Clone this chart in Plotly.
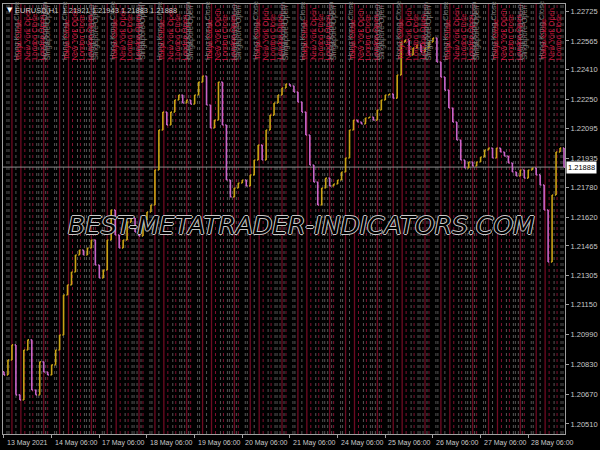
import plotly.graph_objects as go

# ---------------- data ----------------
close = [
    1.20773, 1.20853, 1.20934, 1.20666, 1.20639, 1.20907, 1.20961, 1.20692, 1.20666, 1.20843,
    1.20789, 1.20773, 1.20827, 1.20907, 1.20987, 1.21202, 1.21256, 1.21325, 1.21416, 1.21443,
    1.21416, 1.21454, 1.21497, 1.21363, 1.21293, 1.21336, 1.21497, 1.21658, 1.21524, 1.21454,
    1.21497, 1.21593, 1.21615, 1.21540, 1.21518, 1.21604, 1.21647, 1.21685, 1.21872, 1.22087,
    1.22183, 1.22114, 1.22183, 1.22248, 1.22275, 1.22232, 1.22248, 1.22226, 1.22275, 1.22344,
    1.22376, 1.22221, 1.22098, 1.22140, 1.22344, 1.22114, 1.21819, 1.21728, 1.21776, 1.21803,
    1.21819, 1.21787, 1.21846, 1.21926, 1.22006, 1.21926, 1.22087, 1.22167, 1.22232, 1.22275,
    1.22312, 1.22334, 1.22323, 1.22291, 1.22237, 1.22183, 1.22060, 1.21899, 1.21808, 1.21685,
    1.21776, 1.21829, 1.21787, 1.21797, 1.21819, 1.21862, 1.21937, 1.22087, 1.22140, 1.22130,
    1.22119, 1.22151, 1.22157, 1.22140, 1.22194, 1.22248, 1.22275, 1.22280, 1.22258, 1.22382,
    1.22559, 1.22570, 1.22489, 1.22527, 1.22543, 1.22505, 1.22527, 1.22559, 1.22580, 1.22452,
    1.22371, 1.22301, 1.22205, 1.22130, 1.22033, 1.21926, 1.21883, 1.21915, 1.21894, 1.21915,
    1.21942, 1.21980, 1.21990, 1.21937, 1.21990, 1.21969, 1.21947, 1.21910, 1.21862, 1.21840,
    1.21872, 1.21829, 1.21872, 1.21883, 1.21846, 1.21792, 1.21658, 1.21379, 1.21738, 1.21969,
    1.21990, 1.21888,
]
first_open = 1.20790
last_price = 1.21888

price_ticks = [1.20510, 1.20670, 1.20830, 1.20990, 1.21150, 1.21305, 1.21465, 1.21620,
               1.21780, 1.21935, 1.22095, 1.22250, 1.22410, 1.22565, 1.22725]

date_labels = ["13 May 2021", "14 May 06:00", "17 May 06:00", "18 May 06:00", "19 May 06:00",
               "20 May 06:00", "21 May 06:00", "24 May 06:00", "25 May 06:00", "26 May 06:00",
               "27 May 06:00", "28 May 06:00"]

# session markers (hours after the day's start)
solid_session_hours = [4, 8.5, 20]
dotted_gray_hours = [1.5, 2.5, 6, 13, 16.5, 17.5, 19, 21]
dotted_red_hours = [10.5, 14.5, 22]
session_labels_red = [("Tokyo Close", 7.5), ("New York Open", 11.5), ("London Close", 15), ("London Open", 19)]
session_labels_gray = [("Hong Kong Close", 6.5), ("Hong Kong Open", 20), ("Singapore Open", 22)]

header = "EURUSD,H1  1.21921 1.21943 1.21883 1.21888"
watermark = "BEST-METATRADER-INDICATORS.COM"

# ---------------- build ----------------
hours = [2 * i for i in range(len(close))]
opens = [first_open] + close[:-1]
highs = [max(o, c) for o, c in zip(opens, close)]
lows = [min(o, c) for o, c in zip(opens, close)]
day_starts = [24 * k for k in range(len(date_labels))]
x_min, x_max = -0.5, 282.5

fig = go.Figure()

shapes = []
for d in day_starts:
    for off in dotted_gray_hours:
        h = d + off
        if x_min < h < x_max:
            shapes.append(dict(type="line", xref="x", yref="paper", x0=h, x1=h, y0=0, y1=1,
                               line=dict(color="#555555", width=1, dash="dot"), layer="below"))
    for off in dotted_red_hours:
        h = d + off
        if x_min < h < x_max:
            shapes.append(dict(type="line", xref="x", yref="paper", x0=h, x1=h, y0=0, y1=1,
                               line=dict(color="#801030", width=1, dash="dot"), layer="below"))
    for off in solid_session_hours:
        h = d + off
        if x_min < h < x_max:
            shapes.append(dict(type="line", xref="x", yref="paper", x0=h, x1=h, y0=0, y1=1,
                               line=dict(color="#6e0a22", width=1.3), layer="below"))
# current price line
shapes.append(dict(type="line", xref="paper", yref="y", x0=0, x1=1, y0=last_price, y1=last_price,
                   line=dict(color="#8c8c8c", width=1), layer="below"))

fig.add_trace(go.Ohlc(
    x=hours, open=opens, high=highs, low=lows, close=close,
    increasing=dict(line=dict(color="#c8a214", width=1.6)),
    decreasing=dict(line=dict(color="#c864c8", width=1.6)),
    tickwidth=0.3, hoverinfo="skip", showlegend=False,
))

annotations = []
lab_y = 0.865
for d in day_starts:
    for txt, off in session_labels_gray:
        h = d + off
        if x_min < h < x_max - 1:
            annotations.append(dict(x=h, y=lab_y, xref="x", yref="paper", text=txt, textangle=-90,
                                    showarrow=False, xanchor="center", yanchor="bottom",
                                    font=dict(family="Liberation Sans", size=7.5, color="#7a7a7a")))
    for txt, off in session_labels_red:
        h = d + off
        if x_min < h < x_max - 1:
            annotations.append(dict(x=h, y=lab_y, xref="x", yref="paper", text=txt, textangle=-90,
                                    showarrow=False, xanchor="center", yanchor="bottom",
                                    font=dict(family="Liberation Sans", size=7.5, color="#c8143c")))

for d, lab in zip(day_starts, date_labels):
    annotations.append(dict(x=d, y=0, xref="x", yref="paper", text=lab, showarrow=False,
                            xanchor="left", yanchor="top", xshift=1, yshift=-3,
                            font=dict(family="Liberation Sans", size=7, color="#c8c8c8")))

annotations.append(dict(x=0.004, y=0.999, xref="paper", yref="paper", text="▼", showarrow=False,
                        xanchor="left", yanchor="top", font=dict(family="DejaVu Sans", size=7, color="#ffffff")))
annotations.append(dict(x=0.017, y=0.999, xref="paper", yref="paper", text=header, showarrow=False,
                        xanchor="left", yanchor="top", font=dict(family="Liberation Sans", size=7.5, color="#c8c8c8")))

annotations.append(dict(x=1, y=last_price, xref="paper", yref="y", text=f"{last_price:.5f}", showarrow=False,
                        xanchor="left", yanchor="middle", xshift=1, bgcolor="#ffffff", borderpad=1,
                        font=dict(family="Liberation Sans", size=7.5, color="#000000")))

annotations.append(dict(x=0.532, y=0.486, xref="paper", yref="paper", text=watermark, showarrow=False,
                        xanchor="center", yanchor="middle",
                        font=dict(family="DejaVu Sans", size=25, color="#000000", style="italic",
                                  shadow="1px 0 0 #c8c8c8, -1px 0 0 #c8c8c8, 0 1px 0 #c8c8c8, 0 -1px 0 #c8c8c8")))

fig.update_layout(
    width=600, height=450,
    margin=dict(l=2, r=34, t=4, b=16),
    paper_bgcolor="#000000", plot_bgcolor="#000000",
    shapes=shapes, annotations=annotations,
    showlegend=False,
    xaxis=dict(range=[x_min, x_max], showgrid=False, zeroline=False, rangeslider=dict(visible=False),
               tickvals=day_starts, showticklabels=False, ticks="outside", ticklen=3,
               tickcolor="#a0a0a0", showline=True, linecolor="#a0a0a0", mirror=True, linewidth=1),
    yaxis=dict(range=[1.20456, 1.22763], side="right", showgrid=False, zeroline=False,
               tickvals=price_ticks, ticktext=[f"{v:.5f}" for v in price_ticks],
               ticks="outside", ticklen=3, tickcolor="#a0a0a0",
               tickfont=dict(family="Liberation Sans", size=7.5, color="#c8c8c8"),
               showline=True, linecolor="#a0a0a0", mirror=True, linewidth=1),
)

fig.write_html("out.html", config={"displayModeBar": False},
               post_script="document.body.style.margin='0px';document.body.style.background='#000';")
